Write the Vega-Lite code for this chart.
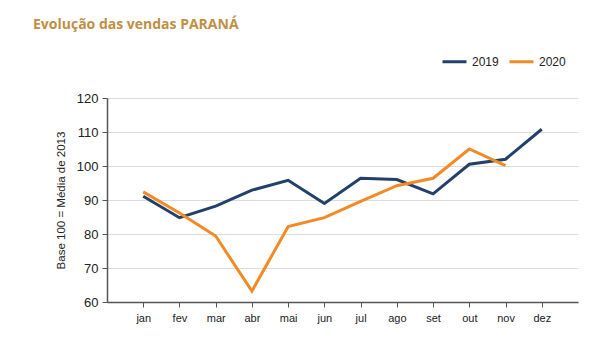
{
  "$schema": "https://vega.github.io/schema/vega-lite/v6.json",
  "width": 471,
  "height": 204,
  "autosize": {"type": "none"},
  "padding": {"left": 107, "top": 98, "right": 22, "bottom": 48},
  "background": "white",
  "title": {
    "text": "Evolução das vendas PARANÁ",
    "anchor": "start",
    "frame": "group",
    "dx": -74,
    "offset": 16,
    "font": "Open Sans",
    "fontSize": 14,
    "fontWeight": "bold",
    "color": "#BF8F45"
  },
  "data": {
    "values": [
      {"mes": "jan", "ano": "2019", "v": 91.1},
      {"mes": "fev", "ano": "2019", "v": 84.8},
      {"mes": "mar", "ano": "2019", "v": 88.2},
      {"mes": "abr", "ano": "2019", "v": 92.9},
      {"mes": "mai", "ano": "2019", "v": 95.8},
      {"mes": "jun", "ano": "2019", "v": 89.0},
      {"mes": "jul", "ano": "2019", "v": 96.4},
      {"mes": "ago", "ano": "2019", "v": 96.0},
      {"mes": "set", "ano": "2019", "v": 91.8},
      {"mes": "out", "ano": "2019", "v": 100.5},
      {"mes": "nov", "ano": "2019", "v": 102.0},
      {"mes": "dez", "ano": "2019", "v": 110.8},
      {"mes": "jan", "ano": "2020", "v": 92.4},
      {"mes": "fev", "ano": "2020", "v": 86.2},
      {"mes": "mar", "ano": "2020", "v": 79.4},
      {"mes": "abr", "ano": "2020", "v": 63.2},
      {"mes": "mai", "ano": "2020", "v": 82.2},
      {"mes": "jun", "ano": "2020", "v": 84.8},
      {"mes": "jul", "ano": "2020", "v": 89.6},
      {"mes": "ago", "ano": "2020", "v": 94.2},
      {"mes": "set", "ano": "2020", "v": 96.4},
      {"mes": "out", "ano": "2020", "v": 105.0},
      {"mes": "nov", "ano": "2020", "v": 100.1}
    ]
  },
  "mark": {"type": "line", "strokeWidth": 3},
  "encoding": {
    "x": {
      "field": "mes",
      "type": "ordinal",
      "sort": ["jan","fev","mar","abr","mai","jun","jul","ago","set","out","nov","dez"],
      "scale": {"type": "point", "padding": 1},
      "axis": {
        "title": null,
        "labelAngle": 0,
        "labelFont": "Liberation Sans",
        "labelFontSize": 11,
        "labelColor": "#222",
        "labelPadding": 5,
        "domainColor": "#555",
        "domainWidth": 1.5,
        "tickColor": "#555",
        "tickSize": 5,
        "grid": false
      }
    },
    "y": {
      "field": "v",
      "type": "quantitative",
      "scale": {"domain": [60, 120], "nice": false, "zero": false},
      "axis": {
        "values": [60, 70, 80, 90, 100, 110, 120],
        "title": "Base 100 = Média de 2013",
        "titleFont": "Liberation Sans",
        "titleFontSize": 11.5,
        "titleFontWeight": "normal",
        "titleColor": "#222",
        "titlePadding": 10,
        "labelFont": "Liberation Sans",
        "labelFontSize": 13,
        "labelColor": "#222",
        "labelPadding": 4,
        "domainColor": "#555",
        "domainWidth": 1.5,
        "tickColor": "#555",
        "tickSize": 5,
        "gridColor": "#dcdcdc",
        "gridWidth": 1
      }
    },
    "color": {
      "field": "ano",
      "type": "nominal",
      "scale": {"domain": ["2019", "2020"], "range": ["#22406A", "#F28A26"]},
      "legend": {
        "title": null,
        "orient": "none",
        "legendX": 334,
        "legendY": -50,
        "direction": "horizontal",
        "symbolType": "stroke",
        "symbolSize": 576,
        "symbolStrokeWidth": 3,
        "labelFont": "Liberation Sans",
        "labelFontSize": 12,
        "labelColor": "#222",
        "columnPadding": 4
      }
    }
  },
  "config": {"view": {"stroke": null}}
}
